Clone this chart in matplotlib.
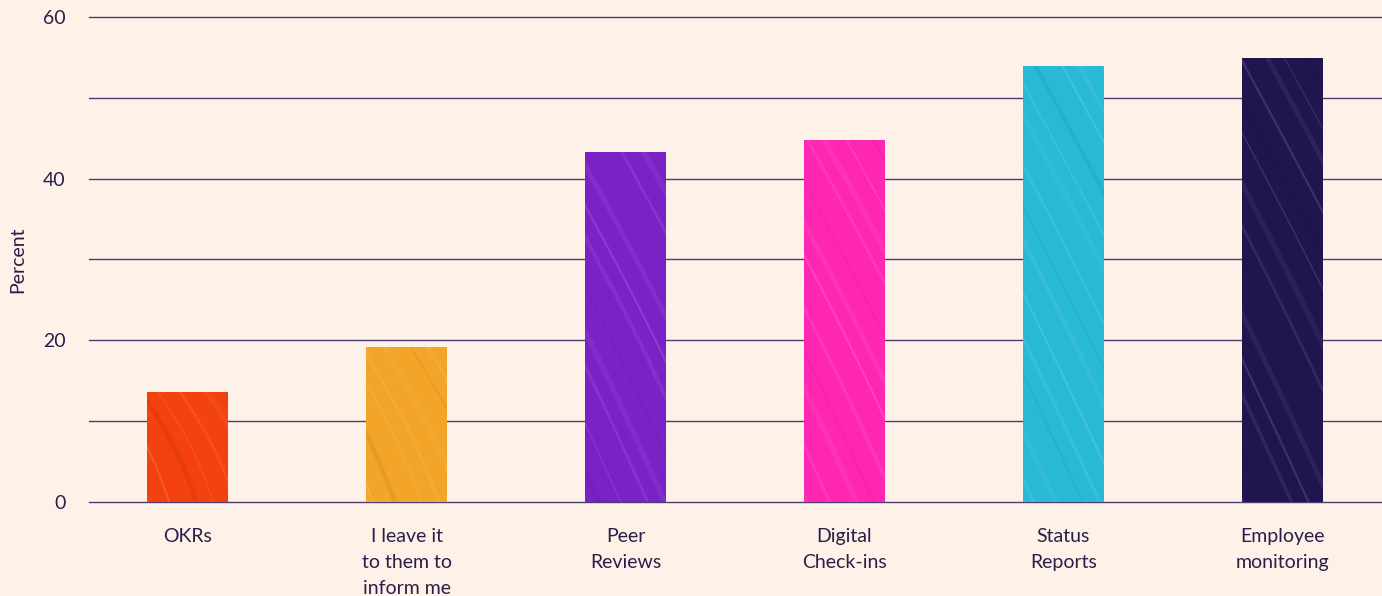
import matplotlib
matplotlib.use("Agg")
import matplotlib.pyplot as plt
import numpy as np

categories = ["OKRs", "I leave it\nto them to\ninform me", "Peer\nReviews",
              "Digital\nCheck-ins", "Status\nReports", "Employee\nmonitoring"]
values = [13.6, 19.2, 43.3, 44.8, 53.9, 54.9]
colors = ["#F3410F", "#F2A528", "#7B22C6", "#FF27B2", "#2AB8D7", "#20164F"]
yticks = [0, 20, 40, 60]

bg = "#FEF1E8"
ink = "#2A1E4A"
grid_c = "#4B3F72"

plt.rcParams["font.family"] = ["Lato", "DejaVu Sans"]

fig = plt.figure(figsize=(13.82, 5.96), dpi=100, facecolor=bg)
ax = fig.add_axes([0.0644, 0.1577, 0.9356, 0.8138])
ax.set_facecolor(bg)

XMIN, XMAX, YMAX = -0.45, 5.455, 60
x = np.arange(len(categories))
bars = ax.bar(x, values, width=0.37, color=colors, zorder=2)

# diagonal brush-stroke texture inside each bar (pixel-space geometry)
px_x = 0.9356 * 1382 / (XMAX - XMIN)
px_y = 0.8138 * 596 / YMAX
slope = 0.5          # horizontal shift per unit of downward travel
spacing = 17         # px between strokes
widths = [1.2, 2.6, 1.6, 3.4, 1.0, 2.0, 4.0]
alphas = [0.10, 0.07, 0.12, 0.06, 0.09, 0.08, 0.05]
for bi, (rect, v) in enumerate(zip(bars, values)):
    x0 = rect.get_x()
    w_px = rect.get_width() * px_x
    h_px = v * px_y
    t = np.linspace(0, 1, 80)
    c = -slope * h_px - 20 + (bi * 7) % spacing
    k = 0
    while c < w_px + 20:
        dy = t * (h_px + 10)
        dx = c + slope * dy + 6 * np.sin(np.pi * t)
        xs = x0 + dx / px_x
        ys = v + 5 / px_y - dy / px_y
        j = (k + bi) % len(widths)
        col = "white" if (k + bi) % 4 != 3 else "black"
        a = alphas[j] if col == "white" else 0.05
        ln, = ax.plot(xs, ys, color=col, alpha=a, lw=widths[j], zorder=3,
                      solid_capstyle="round")
        ln.set_clip_path(rect)
        c += spacing + (k % 3) * 5
        k += 1

ax.set_xlim(XMIN, XMAX)
ax.set_ylim(0, YMAX)
ax.set_yticks(yticks)
ax.set_yticks([10, 30, 50], minor=True)
ax.grid(True, which="both", axis="y", color=grid_c, lw=1.0, zorder=0)
for gl in ax.get_ygridlines():
    gl.set_clip_on(False)
ax.set_axisbelow(True)
for s in ax.spines.values():
    s.set_visible(False)
ax.tick_params(axis="y", which="both", length=0, pad=17, labelsize=14, labelcolor=ink)
ax.tick_params(axis="x", length=0, pad=19, labelsize=14, labelcolor=ink)
ax.set_xticks(x)
ax.set_xticklabels(categories, linespacing=1.62, va="top")
ax.set_ylabel("Percent", fontsize=14, color=ink, labelpad=12)

fig.savefig("out.png", dpi=100, facecolor=bg)
